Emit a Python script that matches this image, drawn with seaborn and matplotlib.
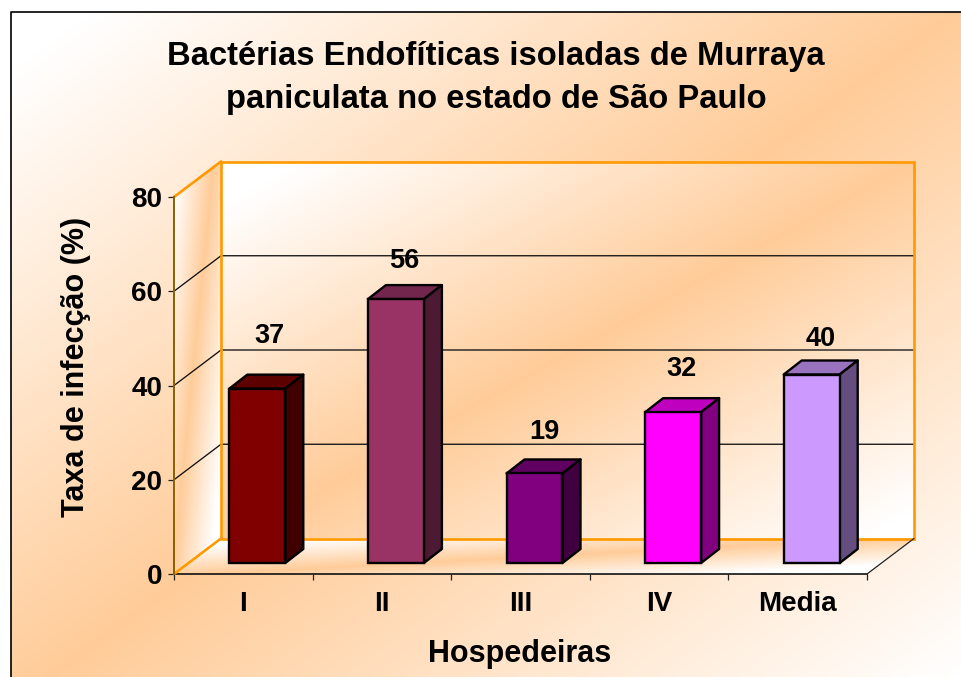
import numpy as np
import pandas as pd
import matplotlib
matplotlib.use('Agg')
import matplotlib.pyplot as plt
import seaborn as sns
from matplotlib.patches import Polygon, Rectangle
from matplotlib.transforms import ScaledTranslation

categories = ['I', 'II', 'III', 'IV', 'Media']
values = [37, 56, 19, 32, 40]
y_ticks = [0, 20, 40, 60, 80]

title = 'Bactérias Endofíticas isoladas de Murraya\npaniculata no estado de São Paulo'
x_title = 'Hospedeiras'
y_title = 'Taxa de infecção (%)'

front_colors = ['#800000', '#993366', '#800080', '#FF00FF', '#CC99FF']
top_colors = ['#5C0000', '#73264D', '#600060', '#BF00BF', '#9973BF']
side_colors = ['#400000', '#4D1A33', '#400040', '#800080', '#664D80']

PEACH = np.array([255, 204, 153]) / 255
WHITE = np.array([255, 255, 255]) / 255
ORANGE = '#FF9900'
W, H = 961, 677

sns.set_theme(style='white')
plt.rcParams['font.family'] = ['Liberation Sans', 'DejaVu Sans']
plt.rcParams['font.weight'] = 'bold'

fig = plt.figure(figsize=(W / 100, H / 100), dpi=100, facecolor='white')

# pixel space axes behind everything, for the gradients
bg = fig.add_axes([0, 0, 1, 1], zorder=0)
bg.set_xlim(0, W)
bg.set_ylim(H, 0)
bg.axis('off')

ax = fig.add_axes([174 / W, 1 - 574 / H, 693 / W, 377 / H], zorder=1)
ax.patch.set_visible(False)


def fog(cx, cy, stops, colors):
    # diagonal multi stop gradient, s = cx*x + cy*y
    xx, yy = np.meshgrid(np.arange(W) + 0.5, np.arange(H) + 0.5)
    s = cx * xx + cy * yy
    rgb = np.dstack([np.interp(s, stops, [c[i] for c in colors]) for i in range(3)])
    return rgb


def to_px(points):
    pts = ax.transData.transform(points)
    pts[:, 1] = H - pts[:, 1]
    return pts


def fill_gradient(rgb, clip_poly):
    im = bg.imshow(rgb, extent=(0, W, H, 0), interpolation='bilinear', aspect='auto', zorder=1)
    im.set_clip_path(clip_poly)


plot_df = pd.DataFrame({'host': categories, 'rate': values})
sns.barplot(data=plot_df, x='host', y='rate', hue='host', palette=front_colors, legend=False,
            width=0.404, saturation=1, edgecolor='black', linewidth=1.7, ax=ax, zorder=5)

ax.set_xlim(-0.5, 4.5)
ax.set_ylim(0, 80)
bg.set_xlim(0, W)
bg.set_ylim(H, 0)

# slide background
slide = Rectangle((11, 12), W, H, transform=bg.transData)
fill_gradient(fog(550, 750, [60000, 535000, 1036000], [WHITE, PEACH, WHITE]), slide)
bg.plot([11, 11, W], [H, 12, 12], color='black', lw=1.2, zorder=3)

# walls of the 3d box
wall_dx, wall_dy = 47 / 138.6, 35.5 / 4.7125
x0, x1 = -0.5, 4.5
y0, y1 = 0, 80
back = [(x0 + wall_dx, y0 + wall_dy), (x1 + wall_dx, y0 + wall_dy),
        (x1 + wall_dx, y1 + wall_dy), (x0 + wall_dx, y1 + wall_dy)]
side = [(x0, y0), (x0 + wall_dx, y0 + wall_dy), (x0 + wall_dx, y1 + wall_dy), (x0, y1)]
floor = [(x0, y0), (x1, y0), (x1 + wall_dx, y0 + wall_dy), (x0 + wall_dx, y0 + wall_dy)]

fill_gradient(fog(0.557, 1, [330, 670, 1020], [WHITE, PEACH, WHITE]),
              Polygon(to_px(back), closed=True, transform=bg.transData))
fill_gradient(fog(10, 1, [1940, 2300, 2670], [WHITE, PEACH, WHITE]),
              Polygon(to_px(side), closed=True, transform=bg.transData))
fill_gradient(fog(0.053, 1, [556, 585, 612], [WHITE, PEACH, WHITE]),
              Polygon(to_px(floor), closed=True, transform=bg.transData))

# gridlines run along side wall then across back wall
for t in y_ticks[1:-1]:
    ax.plot([x0, x0 + wall_dx, x1 + wall_dx], [t, t + wall_dy, t + wall_dy],
            color='#111111', lw=0.95, clip_on=False, zorder=2)

ax.add_patch(Polygon(back, closed=True, fill=False, edgecolor=ORANGE, lw=1.9, clip_on=False, zorder=3))
ax.plot([x0, x0 + wall_dx], [y1, y1 + wall_dy], color=ORANGE, lw=1.9, clip_on=False, zorder=3)
ax.plot([x0, x0 + wall_dx], [y0, y0 + wall_dy], color=ORANGE, lw=1.9, clip_on=False, zorder=3)
ax.plot([x1, x1 + wall_dx], [y0, y0 + wall_dy], color='#222222', lw=0.9, clip_on=False, zorder=3)

# 3d bars: seaborn draws the front, shifted into the box, top and side added from it
shift = ScaledTranslation(14 / 100, 11 / 100, fig.dpi_scale_trans)
bar_dx, bar_dy = 18 / 138.6, 14 / 4.7125
bar_tf = ax.transData + shift
label_nudge = [(12, 53), (8, 38), (10, 41), (8, 43), (9, 35)]
for bar, top_c, side_c, val, nudge in zip(ax.patches, top_colors, side_colors, values, label_nudge):
    bar.set_transform(bar_tf)
    bar.set_clip_on(False)
    bx, bw, bh = bar.get_x(), bar.get_width(), bar.get_height()
    top = [(bx, bh), (bx + bw, bh), (bx + bw + bar_dx, bh + bar_dy), (bx + bar_dx, bh + bar_dy)]
    right = [(bx + bw, 0), (bx + bw + bar_dx, bar_dy), (bx + bw + bar_dx, bh + bar_dy), (bx + bw, bh)]
    for pts, col in ((top, top_c), (right, side_c)):
        ax.add_patch(Polygon(pts, closed=True, facecolor=col, edgecolor='black', lw=1.7,
                             transform=bar_tf, clip_on=False, zorder=4, joinstyle='round'))
    ax.annotate(str(val), (bx + bw / 2, val), xytext=((14 + nudge[0]) * 0.72, (11 + nudge[1]) * 0.72),
                textcoords='offset points', ha='center', va='center', fontsize=19.5,
                fontweight='bold', color='black', zorder=6)

sns.despine(ax=ax, top=True, right=True)
ax.spines['left'].set_color('#8A6000')
ax.spines['left'].set_linewidth(1.4)
ax.spines['bottom'].set_color('#111111')
ax.spines['bottom'].set_linewidth(1.2)
ax.spines['left'].set_zorder(3)

ax.set_yticks(y_ticks)
ax.set_xticks(range(len(categories)))
ax.set_xticklabels(categories)
ax.set_xticks(np.arange(-0.5, len(categories)), minor=True)
ax.tick_params(axis='x', which='major', length=0, pad=12, labelsize=20)
ax.tick_params(axis='x', which='minor', length=4.5, width=0.9, color='#222222', bottom=True)
ax.tick_params(axis='y', length=4.5, width=0.9, color='#222222', left=True, pad=4, labelsize=20)
for lab in ax.get_xticklabels() + ax.get_yticklabels():
    lab.set_fontweight('bold')
    lab.set_color('black')

ax.set_xlabel('')
ax.set_ylabel('')
fig.text(76 / W, 1 - 367 / H, y_title, rotation=90, ha='center', va='center',
         fontsize=22, fontweight='bold', color='black')
fig.text(520 / W, 1 - 654 / H, x_title, ha='center', va='center',
         fontsize=22, fontweight='bold', color='black')
fig.text(496 / W, 1 - 78 / H, title, ha='center', va='center', fontsize=23.6,
         fontweight='bold', color='black', linespacing=1.5)

fig.savefig('out.png', dpi=100)
